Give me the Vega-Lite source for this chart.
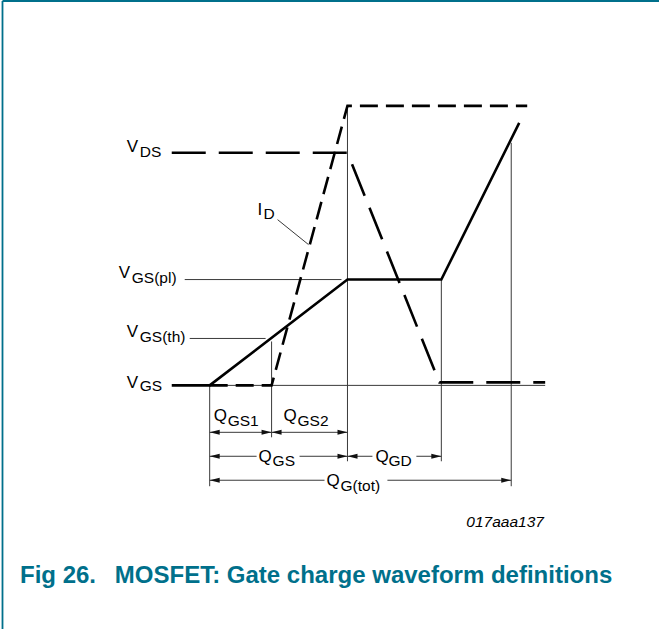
{
  "$schema": "https://vega.github.io/schema/vega-lite/v6.json",
  "width": 660,
  "height": 630,
  "padding": 0,
  "autosize": {"type": "fit", "contains": "padding"},
  "background": "white",
  "config": {"view": {"stroke": null}},
  "datasets": {
    "border": [
      {"x": 2.5, "y": 1, "x2": 660, "y2": 1},
      {"x": 2.5, "y": 1, "x2": 2.5, "y2": 630}
    ],
    "thin": [
      {"x": 210, "y": 386, "x2": 546, "y2": 386},
      {"x": 185, "y": 280, "x2": 342, "y2": 280},
      {"x": 190, "y": 339, "x2": 266, "y2": 339},
      {"x": 278, "y": 220, "x2": 309, "y2": 245},
      {"x": 210, "y": 386, "x2": 210, "y2": 487},
      {"x": 272, "y": 342, "x2": 272, "y2": 438},
      {"x": 348, "y": 106, "x2": 348, "y2": 462},
      {"x": 442, "y": 280, "x2": 442, "y2": 462},
      {"x": 512, "y": 143, "x2": 512, "y2": 487},
      {"x": 210, "y": 433, "x2": 272, "y2": 433},
      {"x": 272, "y": 433, "x2": 348, "y2": 433},
      {"x": 210, "y": 457, "x2": 257, "y2": 457},
      {"x": 300, "y": 457, "x2": 348, "y2": 457},
      {"x": 348, "y": 457, "x2": 373, "y2": 457},
      {"x": 417, "y": 457, "x2": 442, "y2": 457},
      {"x": 210, "y": 481, "x2": 325, "y2": 481},
      {"x": 388, "y": 481, "x2": 512, "y2": 481}
    ],
    "arrL": [
      {"x": 210, "y": 433}, {"x": 272, "y": 433},
      {"x": 210, "y": 457}, {"x": 348, "y": 457},
      {"x": 210, "y": 481}
    ],
    "arrR": [
      {"x": 272, "y": 433}, {"x": 348, "y": 433},
      {"x": 348, "y": 457}, {"x": 442, "y": 457},
      {"x": 512, "y": 481}
    ],
    "vgs": [
      {"x": 172, "y": 386, "o": 1},
      {"x": 210, "y": 386, "o": 2},
      {"x": 348, "y": 280, "o": 3},
      {"x": 442, "y": 280, "o": 4},
      {"x": 520, "y": 123, "o": 5}
    ],
    "vds": [
      {"x": 172, "y": 153, "o": 1},
      {"x": 348, "y": 153, "o": 2},
      {"x": 440, "y": 383, "o": 3},
      {"x": 546, "y": 383, "o": 4}
    ],
    "id": [
      {"x": 210, "y": 386, "o": 1},
      {"x": 272, "y": 386, "o": 2},
      {"x": 348, "y": 106, "o": 3},
      {"x": 528, "y": 106, "o": 4}
    ],
    "main": [
      {"x": 127, "y": 152, "t": "V"},
      {"x": 258, "y": 215, "t": "I"},
      {"x": 119, "y": 278, "t": "V"},
      {"x": 127, "y": 338, "t": "V"},
      {"x": 127, "y": 389, "t": "V"},
      {"x": 214, "y": 422, "t": "Q"},
      {"x": 284, "y": 422, "t": "Q"},
      {"x": 259, "y": 463, "t": "Q"},
      {"x": 376, "y": 463, "t": "Q"},
      {"x": 327, "y": 487, "t": "Q"}
    ],
    "sub": [
      {"x": 140, "y": 157, "t": "DS"},
      {"x": 264, "y": 219, "t": "D"},
      {"x": 132, "y": 283, "t": "GS(pl)"},
      {"x": 140, "y": 343, "t": "GS(th)"},
      {"x": 140, "y": 392, "t": "GS"},
      {"x": 228, "y": 427, "t": "GS1"},
      {"x": 298, "y": 427, "t": "GS2"},
      {"x": 273, "y": 467, "t": "GS"},
      {"x": 389, "y": 467, "t": "GD"},
      {"x": 341, "y": 492, "t": "G(tot)"}
    ],
    "code": [{"x": 467, "y": 528, "t": "017aaa137"}],
    "cap": [
      {"x": 20, "y": 584, "t": "Fig 26."},
      {"x": 115, "y": 584, "t": "MOSFET: Gate charge waveform definitions"}
    ]
  },
  "encoding": {
    "x": {"field": "x", "type": "quantitative", "scale": {"domain": [0, 660], "nice": false, "zero": false}, "axis": null},
    "y": {"field": "y", "type": "quantitative", "scale": {"domain": [0, 630], "nice": false, "zero": false, "reverse": true}, "axis": null}
  },
  "layer": [
    {
      "data": {"name": "border"},
      "mark": {"type": "rule", "color": "#00708b", "strokeWidth": 1.8},
      "encoding": {"x2": {"field": "x2"}, "y2": {"field": "y2"}}
    },
    {
      "data": {"name": "thin"},
      "mark": {"type": "rule", "color": "#3a3a3a", "strokeWidth": 1},
      "encoding": {"x2": {"field": "x2"}, "y2": {"field": "y2"}}
    },
    {
      "data": {"name": "arrL"},
      "mark": {"type": "point", "shape": "M0,0L2,-0.5L2,0.5Z", "size": 100, "filled": true, "color": "#111", "opacity": 1, "strokeWidth": 0}
    },
    {
      "data": {"name": "arrR"},
      "mark": {"type": "point", "shape": "M0,0L-2,-0.5L-2,0.5Z", "size": 100, "filled": true, "color": "#111", "opacity": 1, "strokeWidth": 0}
    },
    {
      "data": {"name": "vgs"},
      "mark": {"type": "line", "color": "#000", "strokeWidth": 2.6, "strokeJoin": "miter"},
      "encoding": {"order": {"field": "o"}}
    },
    {
      "data": {"name": "vds"},
      "mark": {"type": "line", "color": "#000", "strokeWidth": 2.6, "strokeDash": [34, 13], "strokeJoin": "miter"},
      "encoding": {"order": {"field": "o"}}
    },
    {
      "data": {"name": "id"},
      "mark": {"type": "line", "color": "#000", "strokeWidth": 2.6, "strokeDash": [18, 8], "strokeJoin": "miter"},
      "encoding": {"order": {"field": "o"}}
    },
    {
      "data": {"name": "main"},
      "mark": {"type": "text", "align": "left", "baseline": "alphabetic", "font": "Liberation Sans", "fontSize": 17, "color": "#000"},
      "encoding": {"text": {"field": "t"}}
    },
    {
      "data": {"name": "sub"},
      "mark": {"type": "text", "align": "left", "baseline": "alphabetic", "font": "Liberation Sans", "fontSize": 15.5, "color": "#000"},
      "encoding": {"text": {"field": "t"}}
    },
    {
      "data": {"name": "code"},
      "mark": {"type": "text", "align": "left", "baseline": "alphabetic", "font": "Liberation Sans", "fontSize": 15.5, "fontStyle": "italic", "color": "#000"},
      "encoding": {"text": {"field": "t"}}
    },
    {
      "data": {"name": "cap"},
      "mark": {"type": "text", "align": "left", "baseline": "alphabetic", "font": "Liberation Sans", "fontSize": 24, "fontWeight": "bold", "color": "#00708b"},
      "encoding": {"text": {"field": "t"}}
    }
  ]
}
